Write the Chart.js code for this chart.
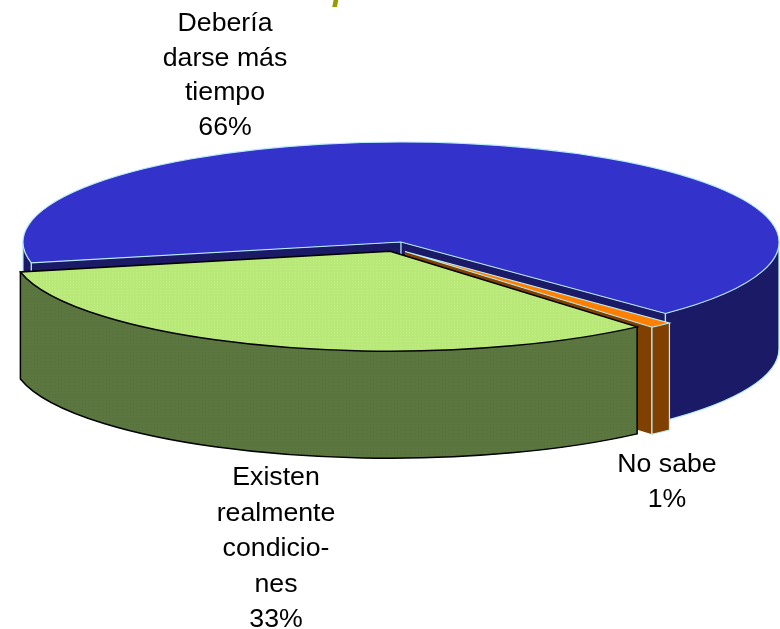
<!DOCTYPE html>
<html><head><meta charset="utf-8">
<style>html,body{margin:0;padding:0;background:#fff}canvas{display:block}</style>
<script src="https://cdn.jsdelivr.net/npm/chart.js@4"></script>
</head><body>
<canvas id="c" width="780" height="629"></canvas>
<script>
const categories = ['Debería darse más tiempo', 'No sabe', 'Existen realmente condiciones'];
const seriesValues = [66, 1, 33];
const slicePull = [24.8, 16.5, 11.5];
const labelLines = [
  ['Debería', 'darse más', 'tiempo', '66%'],
  ['No sabe', '1%'],
  ['Existen', 'realmente', 'condicio-', 'nes', '33%']
];
const titleFragment = 'para';

const RX = 378, RY = 100, DEPTH = 107, CX = 393.8, CY = 248.3;
const PALE = '#b8ecf8';

function dither(a, b) {
  const p = document.createElement('canvas'); p.width = p.height = 3;
  const x = p.getContext('2d');
  x.fillStyle = a; x.fillRect(0, 0, 3, 3);
  x.fillStyle = b; x.fillRect(1, 1, 1, 1);
  return x.createPattern(p, 'repeat');
}
const greenTop = dither('#b8e878', '#c8f08c');
const greenWall = dither('#5c7640', '#54703c');

const topColors = ['#3333cc', '#ff8000', greenTop];
const wallColors = ['#1a1a66', '#804000', greenWall];
const lineColors = [PALE, PALE, '#000000'];

function geom(el, i) {
  const a0 = el.startAngle, a1 = el.endAngle, m = (a0 + a1) / 2, off = slicePull[i];
  return { a0, a1, x: CX + Math.cos(m) * off, y: CY + Math.sin(m) * off * RY / RX };
}
function pt(g, a) { return [g.x + Math.cos(a) * RX, g.y + Math.sin(a) * RY]; }
function frontRanges(g) {
  const out = [];
  for (let k = 0; k < 4; k++) {
    const s = Math.max(g.a0, 2 * Math.PI * k), e = Math.min(g.a1, Math.PI + 2 * Math.PI * k);
    if (e > s) out.push([s, e]);
  }
  return out;
}
function facePath(ctx, g, a) {
  const p = pt(g, a);
  ctx.beginPath();
  ctx.moveTo(g.x, g.y); ctx.lineTo(p[0], p[1]);
  ctx.lineTo(p[0], p[1] + DEPTH); ctx.lineTo(g.x, g.y + DEPTH); ctx.closePath();
}
function wallPath(ctx, g, s, e) {
  ctx.beginPath();
  ctx.ellipse(g.x, g.y, RX, RY, 0, s, e);
  ctx.ellipse(g.x, g.y + DEPTH, RX, RY, 0, e, s, true);
  ctx.closePath();
}

const pie3d = {
  id: 'pie3d',
  afterDatasetUpdate(chart) {
    const els = chart.getDatasetMeta(0).data;
    const R = els[0].outerRadius, sx = RX / R, sy = RY / R;
    greenTop.setTransform(new DOMMatrix().scale(1 / sx, 1 / sy));
    const x0 = chart.chartArea.left + chart.chartArea.width / 2;
    const y0 = chart.chartArea.top + chart.chartArea.height / 2;
    els.forEach((el, i) => {
      const m = (el.startAngle + el.endAngle) / 2;
      el.x = x0 + Math.cos(m) * slicePull[i] / sx;
      el.y = y0 + Math.sin(m) * slicePull[i] / sx;
    });
  },
  beforeDatasetsDraw(chart) {
    const ctx = chart.ctx, els = chart.getDatasetMeta(0).data;
    els.forEach((el, i) => {
      const g = geom(el, i);
      ctx.fillStyle = wallColors[i];
      ctx.strokeStyle = lineColors[i];
      ctx.lineWidth = i === 2 ? 1.5 : 1.2;
      facePath(ctx, g, g.a0); ctx.fill();
      facePath(ctx, g, g.a1); ctx.fill();
      if (i === 1) {
        const p = pt(g, g.a1);
        ctx.beginPath(); ctx.moveTo(p[0], p[1]); ctx.lineTo(p[0], p[1] + DEPTH); ctx.stroke();
      }
      if (i === 0) {
        const p = pt(g, g.a1), q = pt(g, g.a0);
        ctx.beginPath();
        ctx.moveTo(g.x, g.y); ctx.lineTo(g.x, g.y + DEPTH);
        ctx.moveTo(p[0], p[1]); ctx.lineTo(p[0], p[1] + DEPTH);
        ctx.moveTo(q[0], q[1]); ctx.lineTo(q[0], q[1] + DEPTH);
        ctx.stroke();
      }
      frontRanges(g).forEach(r => {
        wallPath(ctx, g, r[0], r[1]); ctx.fill();
        const a = pt(g, r[0]), b = pt(g, r[1]);
        ctx.beginPath();
        ctx.moveTo(a[0], a[1]); ctx.lineTo(a[0], a[1] + DEPTH);
        ctx.ellipse(g.x, g.y + DEPTH, RX, RY, 0, r[0], r[1]);
        ctx.lineTo(b[0], b[1]);
        ctx.stroke();
      });
    });
    const x0 = chart.chartArea.left + chart.chartArea.width / 2;
    const y0 = chart.chartArea.top + chart.chartArea.height / 2;
    const R = els[0].outerRadius;
    ctx.save();
    ctx.translate(CX, CY); ctx.scale(RX / R, RY / R); ctx.translate(-x0, -y0);
  },
  afterDatasetsDraw(chart) {
    const ctx = chart.ctx, els = chart.getDatasetMeta(0).data;
    ctx.restore();
    els.forEach((el, i) => {
      const g = geom(el, i);
      ctx.strokeStyle = lineColors[i];
      ctx.lineWidth = i === 2 ? 1.5 : 1.2;
      const p0 = pt(g, g.a0);
      ctx.beginPath();
      ctx.moveTo(g.x, g.y); ctx.lineTo(p0[0], p0[1]);
      ctx.ellipse(g.x, g.y, RX, RY, 0, g.a0, g.a1);
      ctx.closePath(); ctx.stroke();
    });
    ctx.fillStyle = '#000';
    ctx.font = '26.7px "Liberation Sans"';
    ctx.textAlign = 'center'; ctx.textBaseline = 'alphabetic';
    const anchors = [[225, 31, 34.7], [667, 472, 35], [276, 485, 35.6]];
    labelLines.forEach((ls, i) => ls.forEach((t, j) => {
      ctx.fillText(t, anchors[i][0], anchors[i][1] + j * anchors[i][2]);
    }));
    ctx.fillStyle = '#999900';
    ctx.font = 'italic bold 34px "Liberation Sans"';
    ctx.textAlign = 'left';
    ctx.fillText(titleFragment, 333, -0.5);
  }
};

new Chart(document.getElementById('c'), {
  type: 'pie',
  data: {
    labels: categories,
    datasets: [{
      data: seriesValues,
      backgroundColor: topColors,
      borderWidth: 0,
      clip: false
    }]
  },
  options: {
    responsive: false,
    animation: false,
    rotation: 258,
    layout: { padding: 0 },
    plugins: { legend: { display: false }, tooltip: { enabled: false }, title: { display: false } }
  },
  plugins: [pie3d]
});
</script>
</body></html>
